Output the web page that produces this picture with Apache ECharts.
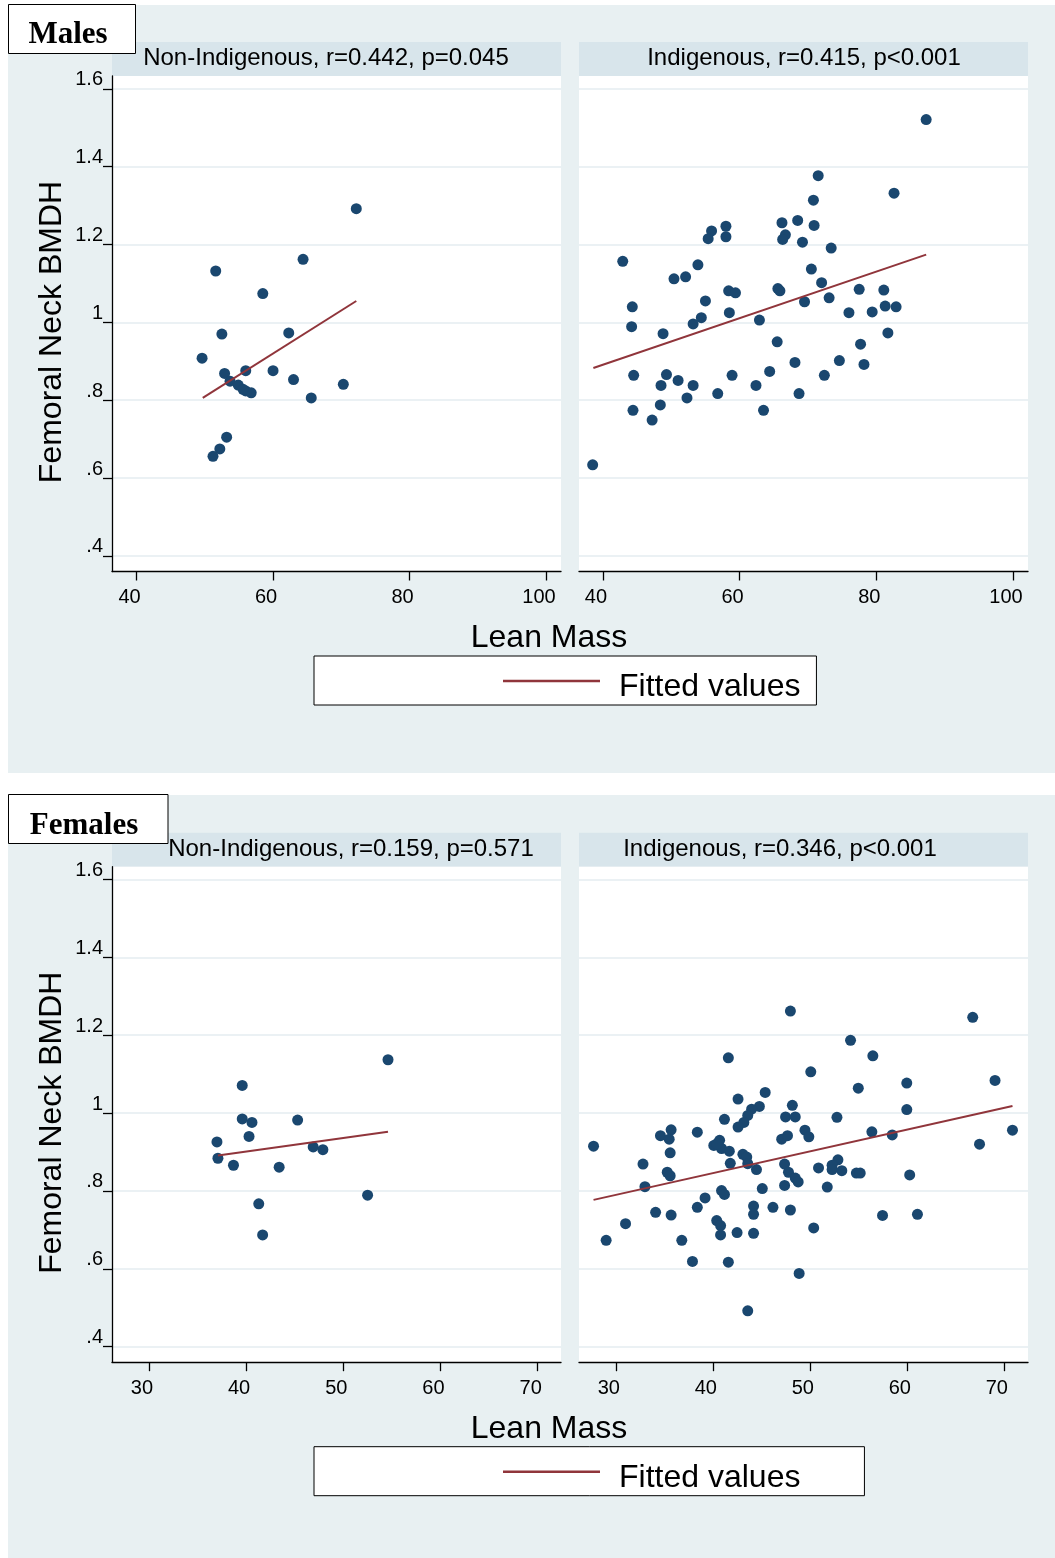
<!DOCTYPE html>
<html>
<head>
<meta charset="utf-8">
<script src="https://cdn.jsdelivr.net/npm/echarts@6/dist/echarts.min.js"></script>
<style>
html,body{margin:0;padding:0;background:#fff;}
#chart{width:1055px;height:1558px;}
</style>
</head>
<body>
<div id="chart"></div>
<script>
// ---------- data ----------
const yTicks = [0.4, 0.6, 0.8, 1.0, 1.2, 1.4, 1.6];
const maleXTicks = [40, 60, 80, 100];
const femaleXTicks = [30, 40, 50, 60, 70];

const stripTitles = [
  'Non-Indigenous, r=0.442, p=0.045',
  'Indigenous, r=0.415, p<0.001',
  'Non-Indigenous, r=0.159, p=0.571',
  'Indigenous, r=0.346, p<0.001'
];
const panelLabels = ['Males', 'Females'];
const xTitle = 'Lean Mass';
const yTitle = 'Femoral Neck BMDH';
const fitName = 'Fitted values';

// Males, Non-Indigenous: [lean mass, BMDH]
const maleNonIndig = [
  [72.2,1.292],[64.4,1.162],[51.6,1.132],[58.5,1.074],[52.5,0.970],[62.3,0.973],
  [49.6,0.908],[52.9,0.869],[56.0,0.876],[53.7,0.849],[54.9,0.839],[56.0,0.824],
  [56.8,0.819],[55.6,0.828],[60.0,0.876],[63.0,0.853],[65.6,0.806],[70.3,0.841],
  [53.2,0.705],[52.2,0.675],[51.2,0.656]
];
const maleNonIndigFit = [[49.7,0.806],[72.2,1.055]];

// Males, Indigenous
const maleIndig = [
  [87.3,1.521],[71.5,1.377],[82.6,1.332],[70.8,1.314],[66.2,1.256],[68.5,1.262],
  [70.9,1.249],[58.0,1.247],[55.9,1.235],[55.4,1.215],[58.0,1.220],[66.7,1.225],
  [66.3,1.213],[69.2,1.206],[73.4,1.191],[42.9,1.157],[53.9,1.148],[50.4,1.112],
  [52.1,1.117],[70.5,1.137],[72.0,1.102],[77.5,1.085],[81.1,1.083],[58.4,1.081],
  [59.4,1.076],[65.6,1.087],[65.9,1.081],[55.0,1.055],[69.5,1.053],[73.1,1.063],
  [44.3,1.040],[44.2,0.989],[48.8,0.971],[53.2,0.996],[54.4,1.012],[58.5,1.025],
  [62.9,1.006],[65.5,0.950],[76.0,1.025],[79.4,1.027],[81.3,1.042],[82.9,1.040],
  [81.7,0.973],[77.7,0.944],[78.2,0.892],[74.6,0.902],[68.1,0.897],[72.4,0.864],
  [68.7,0.817],[64.4,0.874],[62.4,0.838],[63.5,0.774],[58.9,0.864],[56.8,0.817],
  [53.2,0.838],[52.3,0.806],[51.0,0.851],[49.3,0.866],[48.5,0.838],[44.5,0.864],
  [44.4,0.774],[48.4,0.788],[47.2,0.749],[38.5,0.634]
];
const maleIndigFit = [[38.6,0.883],[87.3,1.174]];

// Females, Non-Indigenous
const femaleNonIndig = [
  [54.6,1.137],[39.6,1.071],[39.6,0.985],[40.6,0.976],[45.3,0.982],[40.3,0.940],
  [37.0,0.926],[37.1,0.884],[38.7,0.866],[43.4,0.861],[46.9,0.913],[47.9,0.906],
  [52.5,0.789],[41.3,0.767],[41.7,0.687]
];
const femaleNonIndigFit = [[37.1,0.891],[54.6,0.952]];

// Females, Indigenous
const femaleIndig = [
  [48.0,1.262],[41.6,1.142],[42.6,1.036],[45.4,1.053],[44.8,1.017],[44.0,1.010],
  [43.6,0.994],[43.2,0.976],[42.6,0.964],[41.2,0.984],[48.2,1.020],[47.5,0.990],
  [48.5,0.990],[47.1,0.933],[47.7,0.942],[38.4,0.951],[35.7,0.957],[34.6,0.942],
  [35.5,0.933],[35.6,0.898],[27.7,0.915],[32.8,0.869],[35.3,0.848],[35.6,0.839],
  [33.0,0.811],[40.1,0.917],[40.7,0.930],[40.9,0.909],[41.7,0.902],[40.4,0.921],
  [41.8,0.871],[43.1,0.894],[43.5,0.887],[43.6,0.870],[44.5,0.855],[47.4,0.869],
  [47.8,0.848],[48.5,0.833],[48.8,0.823],[45.1,0.806],[47.4,0.814],[40.9,0.801],
  [41.2,0.791],[39.2,0.782],[38.4,0.758],[44.2,0.761],[44.2,0.740],[46.2,0.758],
  [48.0,0.751],[34.1,0.745],[35.7,0.738],[31.0,0.716],[29.0,0.673],[36.8,0.673],
  [40.4,0.724],[40.8,0.711],[40.8,0.687],[42.5,0.693],[44.2,0.691],[37.9,0.619],
  [41.6,0.617],[48.9,0.588],[43.6,0.492],
  [66.8,1.246],[54.2,1.187],[56.5,1.147],[50.1,1.106],[55.0,1.064],[60.0,1.077],
  [69.1,1.084],[60.0,1.009],[52.8,0.989],[49.5,0.956],[49.9,0.939],[56.4,0.952],
  [58.5,0.944],[70.9,0.956],[67.5,0.920],[50.9,0.859],[52.9,0.880],[52.3,0.866],
  [52.3,0.855],[53.3,0.852],[54.8,0.846],[55.2,0.846],[60.3,0.841],[51.8,0.810],
  [50.4,0.705],[57.5,0.737],[61.1,0.740]
];
const femaleIndigFit = [[27.7,0.777],[70.9,1.018]];

// ---------- styling ----------
const FONT = '"Liberation Sans", Arial, sans-serif';
const SERIF = '"Liberation Serif", "Times New Roman", serif';
const BG = '#e8f0f2';
const STRIP = '#d8e5eb';
const GRIDLINE = '#e4edf0';
const DOT = '#1a476f';
const FIT = '#90353b';
const DY = 790.7; // vertical offset of the female block

const gridTop = [76, 76 + DY];
const gridH = 495.5;
const colLeft = [112, 579];
const colW = [449, 449];

const grids = [];
for (let r = 0; r < 2; r++) for (let c = 0; c < 2; c++) {
  grids.push({left: colLeft[c], top: gridTop[r], width: colW[c], height: gridH,
    show: true, backgroundColor: '#ffffff', borderWidth: 0, containLabel: false});
}

const xRanges = [[36.4, 102.2], [36.5, 102.2], [26.2, 72.4], [26.2, 72.5]];
const xTickSets = [maleXTicks, maleXTicks, femaleXTicks, femaleXTicks];
const xAxes = xRanges.map((rg, i) => ({
  type: 'value', gridIndex: i, min: rg[0], max: rg[1],
  axisLine: {show: true, onZero: false, lineStyle: {color: '#000', width: 1.3}},
  axisTick: {show: true, length: 9, lineStyle: {color: '#000', width: 1.3}, customValues: xTickSets[i]},
  axisLabel: {show: true, customValues: xTickSets[i], fontFamily: FONT, fontSize: 20, color: '#000',
    margin: 16, padding: [0, 14, 0, 0]},
  splitLine: {show: false}
}));

const yAxes = [0, 1, 2, 3].map(i => {
  const left = (i % 2 === 0);
  return {
    type: 'value', gridIndex: i, min: 0.36, max: 1.633,
    axisLine: {show: left, onZero: false, lineStyle: {color: '#000', width: 1.3}},
    axisTick: {show: left, length: 9, lineStyle: {color: '#000', width: 1.3}, customValues: yTicks},
    axisLabel: {show: left, customValues: yTicks, fontFamily: FONT, fontSize: 20, color: '#000',
      margin: 9, verticalAlign: 'bottom', lineHeight: 18,
      formatter: v => {
        const s = String(Math.round(v * 10) / 10);
        return s.replace(/^0\./, '.');
      }},
    splitLine: {show: true, lineStyle: {color: GRIDLINE, width: 1.6}}
  };
});

const scatterSets = [maleNonIndig, maleIndig, femaleNonIndig, femaleIndig];
const fitSets = [maleNonIndigFit, maleIndigFit, femaleNonIndigFit, femaleIndigFit];
const series = [];
scatterSets.forEach((d, i) => {
  series.push({type: 'scatter', name: 'BMDH', xAxisIndex: i, yAxisIndex: i, data: d,
    symbol: 'circle', symbolSize: 11, itemStyle: {color: DOT, opacity: 1}, silent: true, z: 3});
});
fitSets.forEach((d, i) => {
  series.push({type: 'line', name: fitName, xAxisIndex: i, yAxisIndex: i, data: d,
    showSymbol: false, symbol: 'none', lineStyle: {color: FIT, width: 2}, itemStyle: {color: FIT},
    silent: true, z: 4});
});

const legendBase = (top, padRight) => ({
  data: [{name: fitName, icon: 'rect'}],
  left: 314, top: top, orient: 'horizontal',
  padding: [3, padRight, 2, 189],
  itemWidth: 97, itemHeight: 2.5,
  backgroundColor: '#ffffff', borderColor: '#000', borderWidth: 1, borderRadius: 0,
  selectedMode: false,
  formatter: name => '{t|' + name + '}',
  textStyle: {
    fontFamily: FONT, fontSize: 32, color: '#000',
    rich: {t: {fontFamily: FONT, fontSize: 32, color: '#000', lineHeight: 37, padding: [12, 0, 0, 14]}}
  }
});

const graphics = [];
// panel backgrounds
graphics.push({type: 'rect', shape: {x: 8, y: 5, width: 1047, height: 768}, style: {fill: BG}, z: -100, silent: true});
graphics.push({type: 'rect', shape: {x: 8, y: 795, width: 1047, height: 763}, style: {fill: BG}, z: -100, silent: true});
// strip headers
const stripCenters = [326, 804, 351, 780];
for (let r = 0; r < 2; r++) for (let c = 0; c < 2; c++) {
  const k = r * 2 + c;
  graphics.push({type: 'rect', shape: {x: colLeft[c], y: 42 + r * DY, width: colW[c], height: 34},
    style: {fill: STRIP}, z: -50, silent: true});
  graphics.push({type: 'text', x: stripCenters[k], y: 58.5 + r * DY,
    style: {text: stripTitles[k], fill: '#000', font: '24px ' + FONT, align: 'center', verticalAlign: 'middle'}, silent: true});
}
// panel label boxes
graphics.push({type: 'rect', shape: {x: 8.5, y: 4.5, width: 127, height: 49}, style: {fill: '#fff', stroke: '#000', lineWidth: 1}, silent: true});
graphics.push({type: 'text', x: 68, y: 35, style: {text: panelLabels[0], fill: '#000', font: 'bold 31px ' + SERIF, align: 'center', verticalAlign: 'middle'}, silent: true});
graphics.push({type: 'rect', shape: {x: 8.5, y: 794.5, width: 159.5, height: 49}, style: {fill: '#fff', stroke: '#000', lineWidth: 1}, silent: true});
graphics.push({type: 'text', x: 84, y: 826, style: {text: panelLabels[1], fill: '#000', font: 'bold 31px ' + SERIF, align: 'center', verticalAlign: 'middle'}, silent: true});
// axis titles
for (let r = 0; r < 2; r++) {
  graphics.push({type: 'text', x: 549, y: 638 + r * DY,
    style: {text: xTitle, fill: '#000', font: '32px ' + FONT, align: 'center', verticalAlign: 'middle'}, silent: true});
  graphics.push({type: 'text', x: 52, y: 332 + r * DY, rotation: Math.PI / 2,
    style: {text: yTitle, fill: '#000', font: '32px ' + FONT, align: 'center', verticalAlign: 'middle'}, silent: true});
}

const chart = echarts.init(document.getElementById('chart'), null, {renderer: 'canvas'});
chart.setOption({
  animation: false,
  backgroundColor: '#ffffff',
  grid: grids,
  xAxis: xAxes,
  yAxis: yAxes,
  series: series,
  legend: [legendBase(656, 16), legendBase(656 + DY, 64)],
  graphic: {elements: graphics}
});
</script>
</body>
</html>
